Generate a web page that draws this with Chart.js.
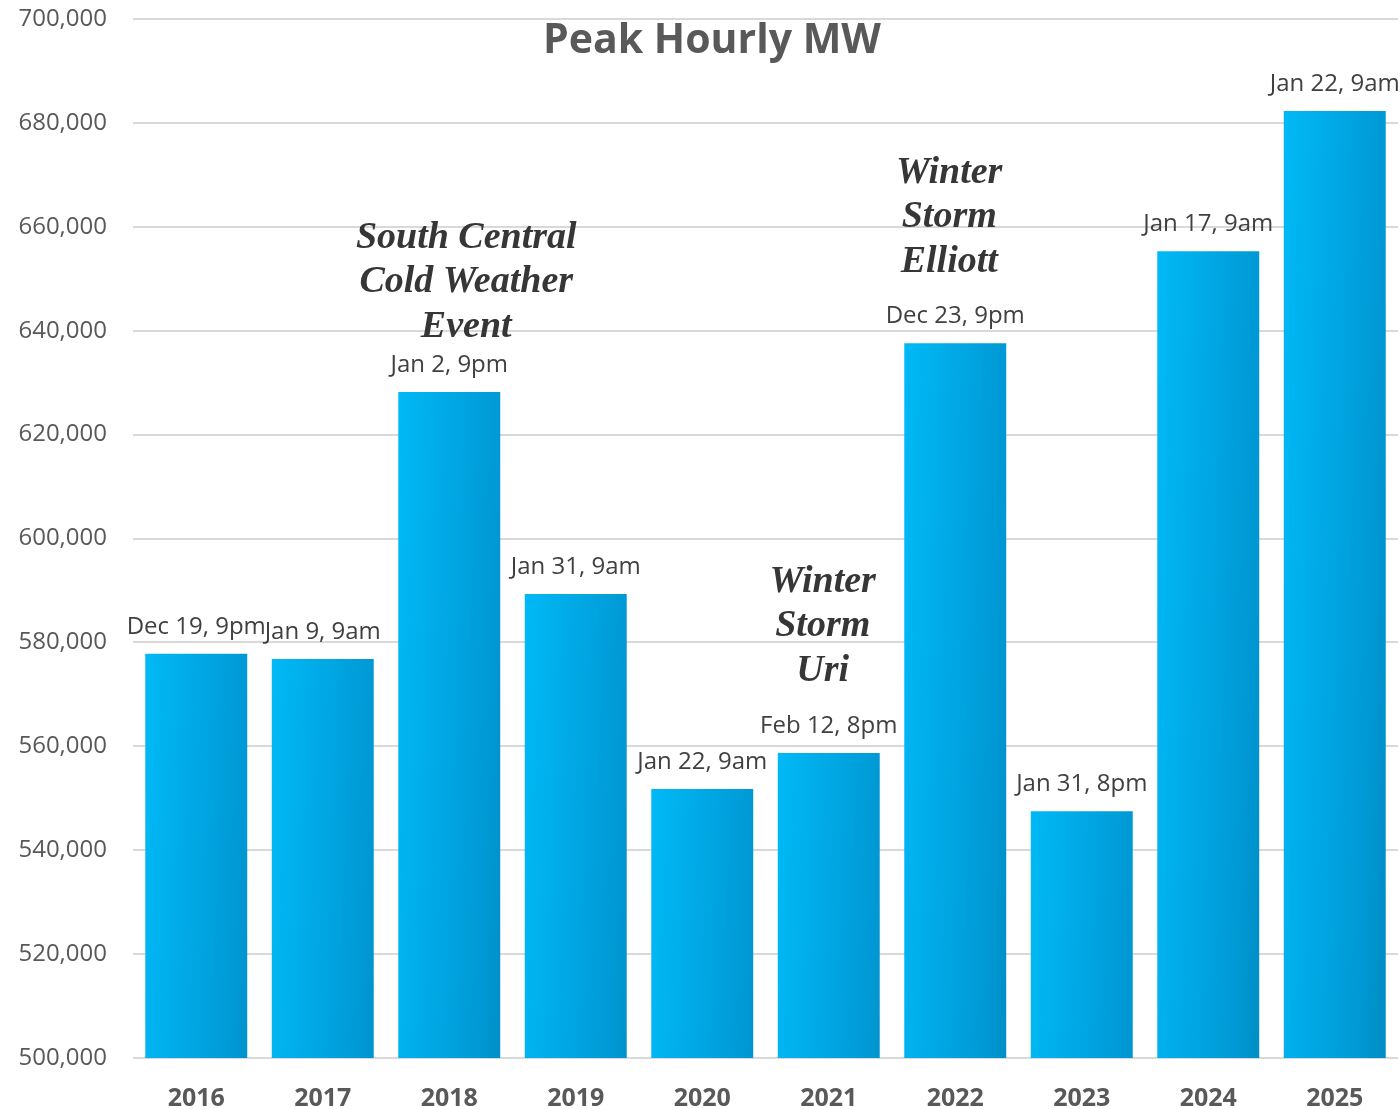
<!DOCTYPE html>
<html>
<head>
<meta charset="utf-8">
<title>Peak Hourly MW</title>
<script src="https://cdn.jsdelivr.net/npm/chart.js@4.4.1/dist/chart.umd.min.js"></script>
<style>
  html, body { margin: 0; padding: 0; background: #fff; }
  #wrap { width: 1400px; height: 1109px; position: relative; }
</style>
</head>
<body>
<div id="wrap"><canvas id="chart"></canvas></div>
<script>
const years = ["2016", "2017", "2018", "2019", "2020", "2021", "2022", "2023", "2024", "2025"]
const peakMW = [577800, 576800, 628200, 589300, 551800, 558700, 637600, 547500, 655300, 682300]
const peakTimes = ["Dec 19, 9pm", "Jan 9, 9am", "Jan 2, 9pm", "Jan 31, 9am", "Jan 22, 9am",
  "Feb 12, 8pm", "Dec 23, 9pm", "Jan 31, 8pm", "Jan 17, 9am", "Jan 22, 9am"]
const events = [
  { year: "2018", lines: ["South Central", "Cold Weather", "Event"] },
  { year: "2021", lines: ["Winter", "Storm", "Uri"] },
  { year: "2022", lines: ["Winter", "Storm", "Elliott"] }
]
// where each event note sits relative to its bar top (px)
const eventOffsets = { "2018": { dx: 17, dy: 65 }, "2021": { dx: -6, dy: 82 }, "2022": { dx: -6, dy: 81 } }

const barGradient = {
  id: "barGradient",
  beforeDatasetsDraw(chart) {
    const ctx = chart.ctx
    chart.getDatasetMeta(0).data.forEach(bar => {
      const { x, y, width, base } = bar.getProps(["x", "y", "width", "base"], true)
      const left = x - width / 2
      const h = base - y
      const k = 2 * width * h / (h * h + width * width)
      const g = ctx.createLinearGradient(left, y, left + h * k, y + width * k)
      g.addColorStop(0, "#00B9F6")
      g.addColorStop(0.5, "#0099D5")
      g.addColorStop(1, "#006892")
      bar.options = Object.assign({}, bar.options, { backgroundColor: g })
    })
  }
}

const labelsAndNotes = {
  id: "labelsAndNotes",
  afterDraw(chart) {
    const ctx = chart.ctx
    const bars = chart.getDatasetMeta(0).data
    ctx.save()
    ctx.textAlign = "center"
    ctx.textBaseline = "middle"

    ctx.font = "24px 'Open Sans'"
    ctx.fillStyle = "#404040"
    bars.forEach((bar, i) => {
      ctx.fillText(peakTimes[i], bar.x, bar.y - 27)
    })

    ctx.font = "bold italic 38px 'Liberation Serif'"
    ctx.fillStyle = "#363636"
    events.forEach(ev => {
      const i = years.indexOf(ev.year)
      const off = eventOffsets[ev.year]
      const bar = bars[i]
      const n = ev.lines.length
      ev.lines.forEach((line, j) => {
        ctx.fillText(line, bar.x + off.dx, bar.y - off.dy - (n - 1 - j) * 44.5)
      })
    })

    ctx.font = "bold 41px 'Open Sans'"
    ctx.fillStyle = "#595959"
    ctx.fillText("Peak Hourly MW", 712, 41)
    ctx.restore()
  }
}

new Chart(document.getElementById("chart"), {
  type: "bar",
  data: {
    labels: years,
    datasets: [{
      data: peakMW,
      backgroundColor: "#0099D5",
      barPercentage: 0.806,
      categoryPercentage: 1
    }]
  },
  options: {
    responsive: true,
    maintainAspectRatio: false,
    animation: false,
    layout: { padding: { top: 19, right: 2, left: 0, bottom: 0 } },
    plugins: { legend: { display: false }, tooltip: { enabled: false }, title: { display: false } },
    scales: {
      x: {
        grid: { display: false, drawTicks: false },
        border: { display: false },
        ticks: { color: "#595959", font: { family: "Open Sans", size: 25, weight: "bold" }, padding: 26 },
        afterFit(scale) { scale.height = 51 }
      },
      y: {
        min: 500000,
        max: 700000,
        grid: { color: "#d9d9d9", lineWidth: 2, drawTicks: false },
        border: { display: false },
        ticks: {
          stepSize: 20000,
          color: "#595959",
          padding: 26,
          font: { family: "Open Sans", size: 24 },
          callback: v => v.toLocaleString("en-US")
        },
        afterFit(scale) {
          scale.width = 133
          scale.paddingTop = 0
          scale.paddingBottom = 0
        }
      }
    }
  },
  plugins: [barGradient, labelsAndNotes]
})
</script>
</body>
</html>
